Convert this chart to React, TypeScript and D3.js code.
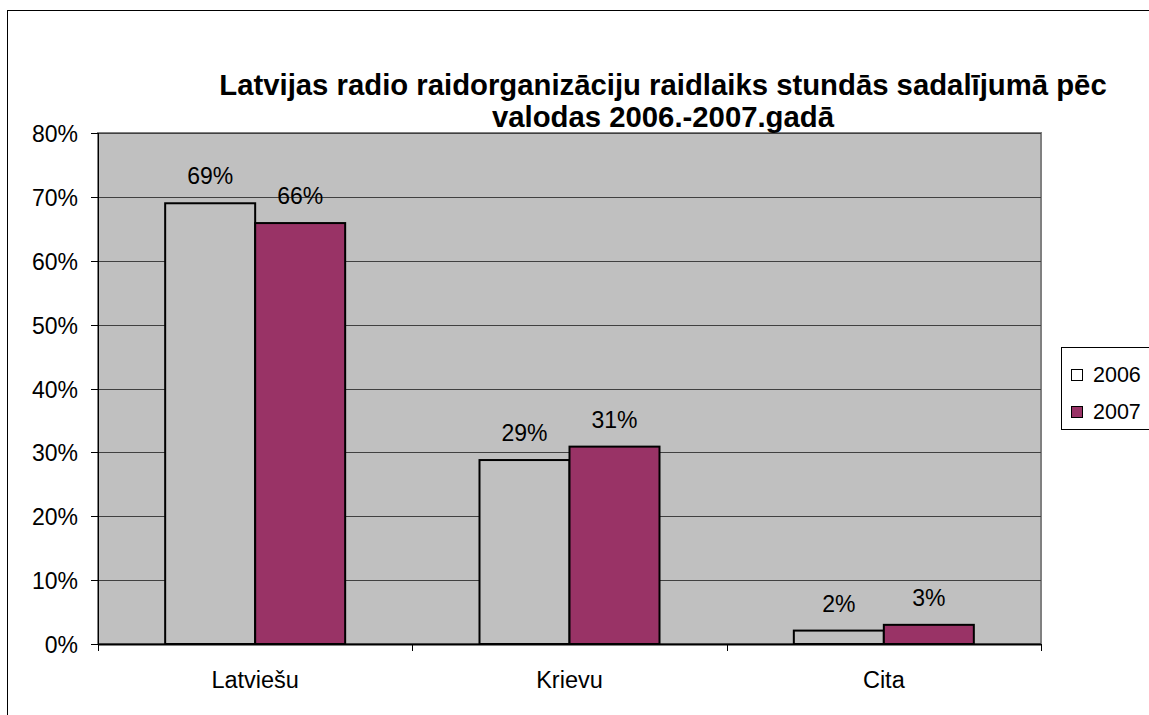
import React, { useEffect, useRef } from 'react';
import * as d3 from 'd3';

const categories = ['Latviešu', 'Krievu', 'Cita'];
const seriesNames = ['2006', '2007'];
const values2006 = [0.69, 0.288, 0.021];
const values2007 = [0.659, 0.309, 0.03];
const labels2006 = ['69%', '29%', '2%'];
const labels2007 = ['66%', '31%', '3%'];
const yTicks = [0, 0.1, 0.2, 0.3, 0.4, 0.5, 0.6, 0.7, 0.8];
const titleLines = [
  'Latvijas radio raidorganizāciju raidlaiks stundās sadalījumā pēc',
  'valodas 2006.-2007.gadā',
];

const colors = ['#c0c0c0', '#993366'];
const FONT = 'Liberation Sans, Arial, sans-serif';

export default function App() {
  const svgRef = useRef<SVGSVGElement>(null);

  useEffect(() => {
    if (!svgRef.current) return;
    const svg = d3.select(svgRef.current);
    svg.selectAll('*').remove();

    const plot = { left: 98, top: 133, right: 1041, bottom: 644 };

    // outer chart border
    svg.append('rect')
      .attr('x', 7.5).attr('y', 10.5)
      .attr('width', 1160).attr('height', 720)
      .attr('fill', '#fff')
      .attr('stroke', '#000').attr('stroke-width', 1);

    const x0 = d3.scaleBand<string>()
      .domain(categories)
      .range([plot.left, plot.right])
      .paddingInner(0)
      .paddingOuter(0);

    const x1 = d3.scaleBand<string>()
      .domain(seriesNames)
      .range([0, 180])
      .padding(0);

    const groupOffset = (x0.bandwidth() - 180) / 2;

    const y = d3.scaleLinear().domain([0, 0.8]).range([plot.bottom, plot.top]);

    // plot background
    svg.append('rect')
      .attr('x', plot.left).attr('y', plot.top)
      .attr('width', plot.right - plot.left)
      .attr('height', plot.bottom - plot.top)
      .attr('fill', '#c0c0c0')
      .attr('stroke', '#808080')
      .attr('stroke-width', 2);

    // gridlines
    svg.append('g')
      .selectAll('line')
      .data(yTicks.slice(1))
      .enter().append('line')
      .attr('x1', plot.left).attr('x2', plot.right)
      .attr('y1', d => Math.round(y(d)) + 0.5)
      .attr('y2', d => Math.round(y(d)) + 0.5)
      .attr('stroke', '#404040')
      .attr('stroke-width', 1);

    // title (drawn after the plot so nothing covers it)
    svg.append('text')
      .attr('x', 663).attr('y', 95)
      .attr('text-anchor', 'middle')
      .attr('font-family', FONT)
      .attr('font-weight', 'bold')
      .attr('font-size', 29.3)
      .selectAll('tspan')
      .data(titleLines)
      .enter().append('tspan')
      .attr('x', 663)
      .attr('dy', (d, i) => (i === 0 ? 0 : 32))
      .text(d => d);

    // bars
    const series = [values2006, values2007];
    const seriesLabels = [labels2006, labels2007];
    series.forEach((vals, si) => {
      const g = svg.append('g');
      g.selectAll('rect')
        .data(vals)
        .enter().append('rect')
        .attr('x', (d, i) => x0(categories[i])! + groupOffset + x1(seriesNames[si])!)
        .attr('y', d => y(d))
        .attr('width', x1.bandwidth())
        .attr('height', d => plot.bottom - y(d))
        .attr('fill', colors[si])
        .attr('stroke', '#000')
        .attr('stroke-width', 2);

      g.selectAll('text')
        .data(vals)
        .enter().append('text')
        .attr('x', (d, i) => x0(categories[i])! + groupOffset + x1(seriesNames[si])! + x1.bandwidth() / 2)
        .attr('y', d => y(d) - 19)
        .attr('text-anchor', 'middle')
        .attr('font-family', FONT)
        .attr('font-size', 23)
        .attr('fill', '#000')
        .text((d, i) => seriesLabels[si][i]);
    });

    // y axis
    const yAxis = svg.append('g');
    yAxis.append('line')
      .attr('x1', plot.left + 0.5).attr('x2', plot.left + 0.5)
      .attr('y1', plot.top).attr('y2', plot.bottom)
      .attr('stroke', '#000');
    yTicks.forEach(t => {
      const yy = Math.round(y(t)) + 0.5;
      yAxis.append('line')
        .attr('x1', 91).attr('x2', plot.left)
        .attr('y1', yy).attr('y2', yy)
        .attr('stroke', '#000');
      yAxis.append('text')
        .attr('x', 78).attr('y', yy + 8)
        .attr('text-anchor', 'end')
        .attr('font-family', FONT)
        .attr('font-size', 23)
        .text(d3.format('.0%')(t));
    });

    // x axis
    const xAxis = svg.append('g');
    xAxis.append('line')
      .attr('x1', plot.left).attr('x2', plot.right)
      .attr('y1', plot.bottom + 0.5).attr('y2', plot.bottom + 0.5)
      .attr('stroke', '#000').attr('stroke-width', 2);
    [...categories.map(c => x0(c)!), plot.right].forEach(xx => {
      xAxis.append('line')
        .attr('x1', Math.round(xx) + 0.5).attr('x2', Math.round(xx) + 0.5)
        .attr('y1', plot.bottom).attr('y2', plot.bottom + 7)
        .attr('stroke', '#000');
    });
    xAxis.selectAll('text.cat')
      .data(categories)
      .enter().append('text')
      .attr('class', 'cat')
      .attr('x', d => x0(d)! + x0.bandwidth() / 2)
      .attr('y', 688)
      .attr('text-anchor', 'middle')
      .attr('font-family', FONT)
      .attr('font-size', 23.5)
      .text(d => d);

    // legend
    const leg = svg.append('g');
    leg.append('rect')
      .attr('x', 1061.5).attr('y', 347.5)
      .attr('width', 100).attr('height', 82)
      .attr('fill', '#fff')
      .attr('stroke', '#000');
    seriesNames.forEach((s, i) => {
      const cy = 369 + i * 37;
      leg.append('rect')
        .attr('x', 1071.5).attr('y', cy + 0.5)
        .attr('width', 11).attr('height', 11)
        .attr('fill', i === 0 ? '#fff' : colors[1])
        .attr('stroke', '#000');
      leg.append('text')
        .attr('x', 1093).attr('y', cy + 13)
        .attr('font-family', FONT)
        .attr('font-size', 21.5)
        .text(s);
    });
  }, []);

  return (
    <svg
      ref={svgRef}
      width={1149}
      height={715}
      style={{ position: 'absolute', left: 0, top: 0, background: '#fff' }}
    />
  );
}
